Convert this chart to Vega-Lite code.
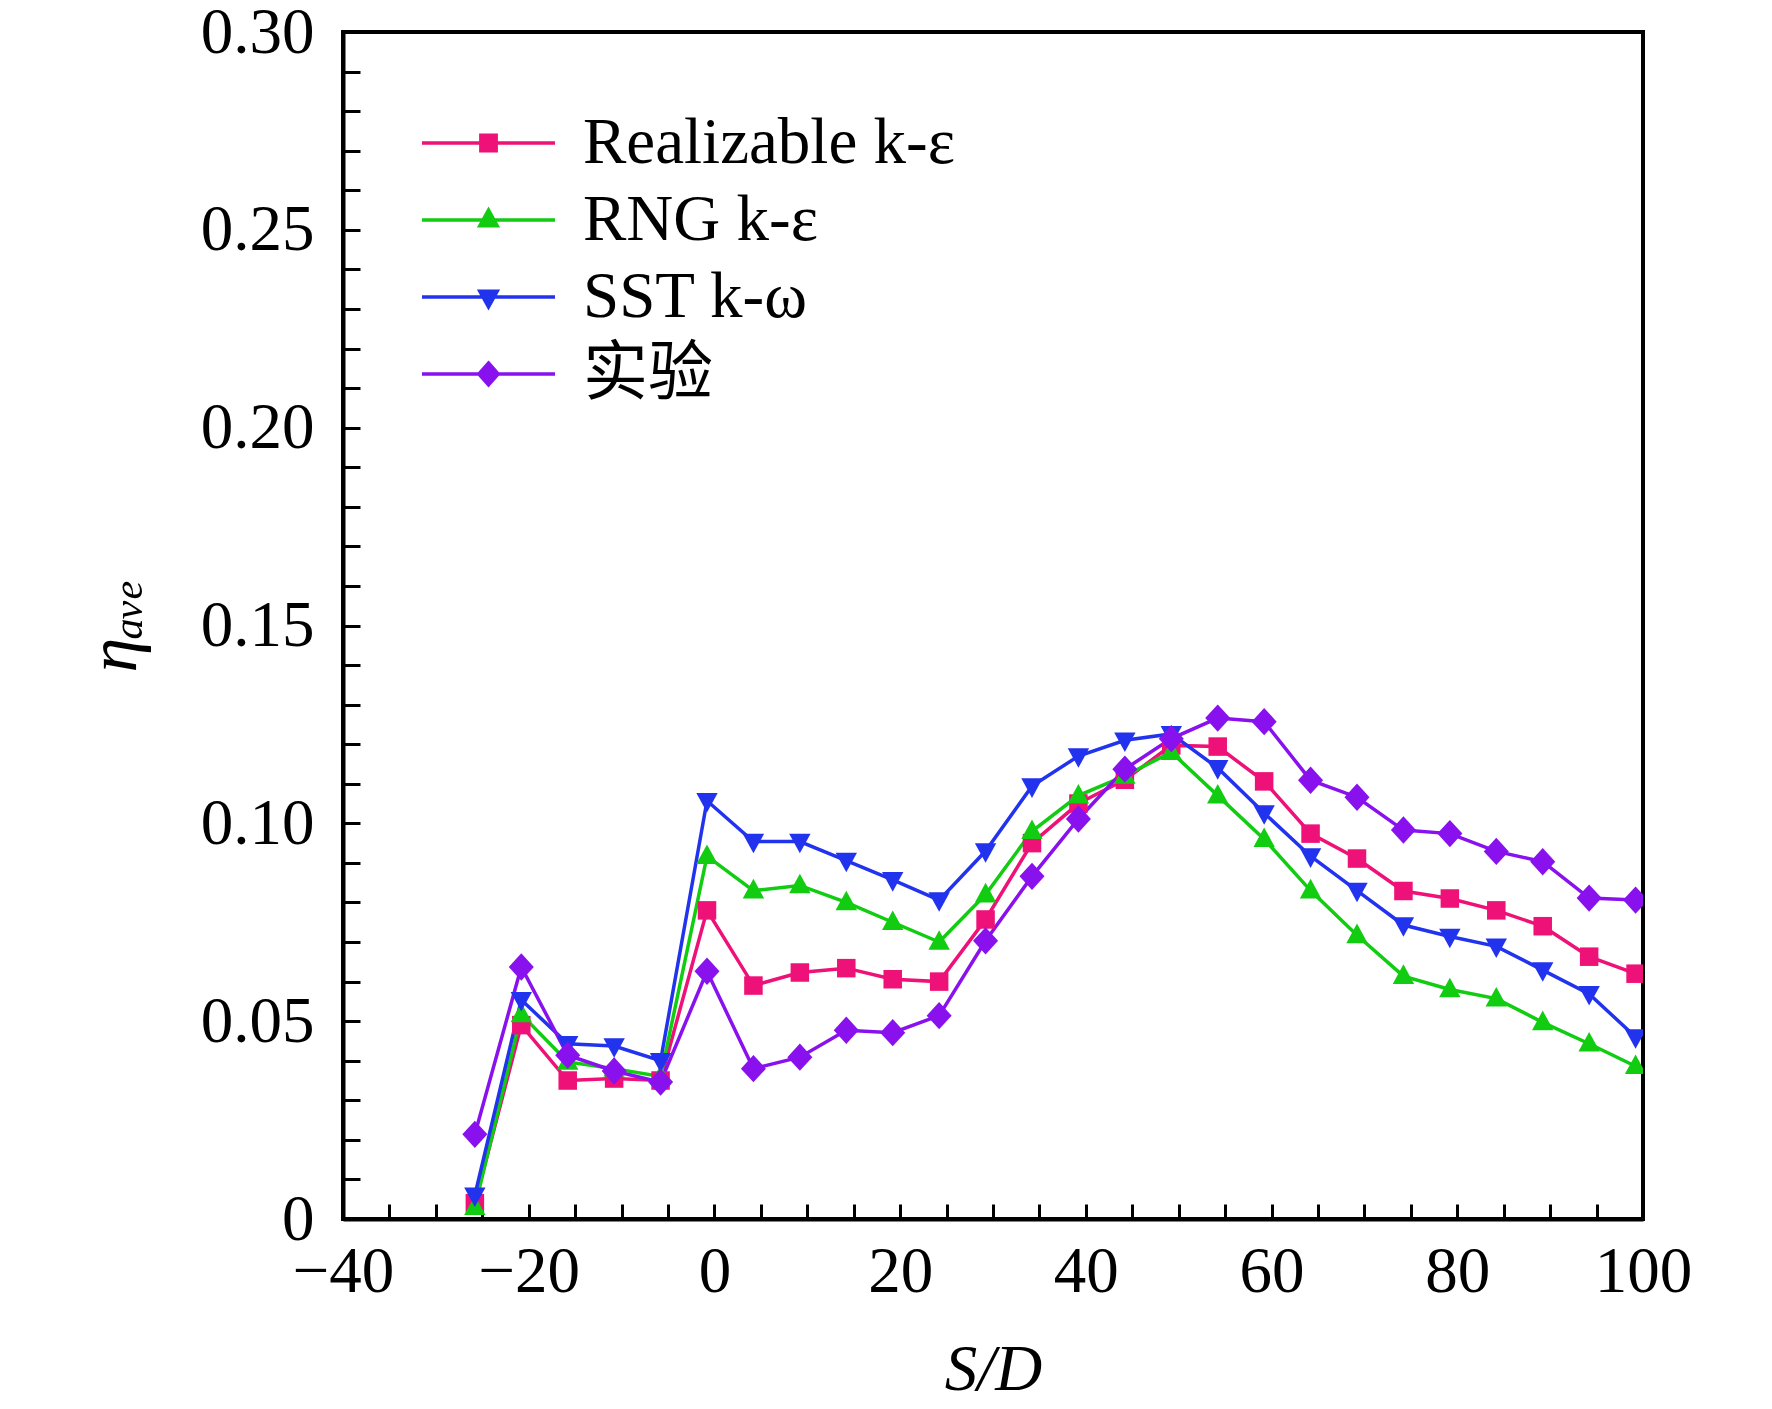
{
  "$schema": "https://vega.github.io/schema/vega-lite/v6.json",
  "width": 1300,
  "height": 1187,
  "autosize": "none",
  "padding": {"left": 343, "top": 32, "right": 129, "bottom": 190},
  "background": "white",
  "config": {
    "view": {"stroke": "black", "strokeWidth": 4},
    "font": "Liberation Serif",
    "axis": {
      "grid": false,
      "domainColor": "black",
      "domainWidth": 4,
      "tickColor": "black",
      "tickWidth": 3,
      "labelFont": "Liberation Serif",
      "labelFontSize": 65,
      "labelColor": "black",
      "labelOverlap": false,
      "labelFlush": false,
      "titleFont": "Liberation Serif",
      "titleFontSize": 65,
      "titleFontWeight": "normal",
      "titleColor": "black"
    }
  },
  "data": {
    "values": [
      {"model": "Realizable k-ε", "x": -25.8, "eta": 0.004},
      {"model": "Realizable k-ε", "x": -20.8, "eta": 0.049},
      {"model": "Realizable k-ε", "x": -15.8, "eta": 0.035},
      {"model": "Realizable k-ε", "x": -10.8, "eta": 0.0355},
      {"model": "Realizable k-ε", "x": -5.8, "eta": 0.035},
      {"model": "Realizable k-ε", "x": -0.8, "eta": 0.078},
      {"model": "Realizable k-ε", "x": 4.2, "eta": 0.059},
      {"model": "Realizable k-ε", "x": 9.2, "eta": 0.0623},
      {"model": "Realizable k-ε", "x": 14.2, "eta": 0.0634},
      {"model": "Realizable k-ε", "x": 19.2, "eta": 0.0606},
      {"model": "Realizable k-ε", "x": 24.2, "eta": 0.060},
      {"model": "Realizable k-ε", "x": 29.2, "eta": 0.0757},
      {"model": "Realizable k-ε", "x": 34.2, "eta": 0.095},
      {"model": "Realizable k-ε", "x": 39.2, "eta": 0.105},
      {"model": "Realizable k-ε", "x": 44.2, "eta": 0.111},
      {"model": "Realizable k-ε", "x": 49.2, "eta": 0.1197},
      {"model": "Realizable k-ε", "x": 54.2, "eta": 0.1194},
      {"model": "Realizable k-ε", "x": 59.2, "eta": 0.1106},
      {"model": "Realizable k-ε", "x": 64.2, "eta": 0.0974},
      {"model": "Realizable k-ε", "x": 69.2, "eta": 0.0911},
      {"model": "Realizable k-ε", "x": 74.2, "eta": 0.0829},
      {"model": "Realizable k-ε", "x": 79.2, "eta": 0.081},
      {"model": "Realizable k-ε", "x": 84.2, "eta": 0.078},
      {"model": "Realizable k-ε", "x": 89.2, "eta": 0.074},
      {"model": "Realizable k-ε", "x": 94.2, "eta": 0.0663},
      {"model": "Realizable k-ε", "x": 99.2, "eta": 0.062},
      {"model": "RNG k-ε", "x": -25.8, "eta": 0.003},
      {"model": "RNG k-ε", "x": -20.8, "eta": 0.0517},
      {"model": "RNG k-ε", "x": -15.8, "eta": 0.0397},
      {"model": "RNG k-ε", "x": -10.8, "eta": 0.038},
      {"model": "RNG k-ε", "x": -5.8, "eta": 0.036},
      {"model": "RNG k-ε", "x": -0.8, "eta": 0.0917},
      {"model": "RNG k-ε", "x": 4.2, "eta": 0.083},
      {"model": "RNG k-ε", "x": 9.2, "eta": 0.0843},
      {"model": "RNG k-ε", "x": 14.2, "eta": 0.080},
      {"model": "RNG k-ε", "x": 19.2, "eta": 0.075},
      {"model": "RNG k-ε", "x": 24.2, "eta": 0.070},
      {"model": "RNG k-ε", "x": 29.2, "eta": 0.082},
      {"model": "RNG k-ε", "x": 34.2, "eta": 0.098},
      {"model": "RNG k-ε", "x": 39.2, "eta": 0.107},
      {"model": "RNG k-ε", "x": 44.2, "eta": 0.112},
      {"model": "RNG k-ε", "x": 49.2, "eta": 0.118},
      {"model": "RNG k-ε", "x": 54.2, "eta": 0.107},
      {"model": "RNG k-ε", "x": 59.2, "eta": 0.096},
      {"model": "RNG k-ε", "x": 64.2, "eta": 0.083},
      {"model": "RNG k-ε", "x": 69.2, "eta": 0.0717},
      {"model": "RNG k-ε", "x": 74.2, "eta": 0.0614},
      {"model": "RNG k-ε", "x": 79.2, "eta": 0.058},
      {"model": "RNG k-ε", "x": 84.2, "eta": 0.0557},
      {"model": "RNG k-ε", "x": 89.2, "eta": 0.0497},
      {"model": "RNG k-ε", "x": 94.2, "eta": 0.0443},
      {"model": "RNG k-ε", "x": 99.2, "eta": 0.0386},
      {"model": "SST k-ω", "x": -25.8, "eta": 0.006},
      {"model": "SST k-ω", "x": -20.8, "eta": 0.0554},
      {"model": "SST k-ω", "x": -15.8, "eta": 0.0443},
      {"model": "SST k-ω", "x": -10.8, "eta": 0.0437},
      {"model": "SST k-ω", "x": -5.8, "eta": 0.040},
      {"model": "SST k-ω", "x": -0.8, "eta": 0.1057},
      {"model": "SST k-ω", "x": 4.2, "eta": 0.0954},
      {"model": "SST k-ω", "x": 9.2, "eta": 0.0954},
      {"model": "SST k-ω", "x": 14.2, "eta": 0.0906},
      {"model": "SST k-ω", "x": 19.2, "eta": 0.0857},
      {"model": "SST k-ω", "x": 24.2, "eta": 0.0806},
      {"model": "SST k-ω", "x": 29.2, "eta": 0.093},
      {"model": "SST k-ω", "x": 34.2, "eta": 0.1094},
      {"model": "SST k-ω", "x": 39.2, "eta": 0.117},
      {"model": "SST k-ω", "x": 44.2, "eta": 0.121},
      {"model": "SST k-ω", "x": 49.2, "eta": 0.1226},
      {"model": "SST k-ω", "x": 54.2, "eta": 0.114},
      {"model": "SST k-ω", "x": 59.2, "eta": 0.1026},
      {"model": "SST k-ω", "x": 64.2, "eta": 0.0917},
      {"model": "SST k-ω", "x": 69.2, "eta": 0.083},
      {"model": "SST k-ω", "x": 74.2, "eta": 0.0743},
      {"model": "SST k-ω", "x": 79.2, "eta": 0.0714},
      {"model": "SST k-ω", "x": 84.2, "eta": 0.0689},
      {"model": "SST k-ω", "x": 89.2, "eta": 0.0629},
      {"model": "SST k-ω", "x": 94.2, "eta": 0.0569},
      {"model": "SST k-ω", "x": 99.2, "eta": 0.046},
      {"model": "实验", "x": -25.8, "eta": 0.0214},
      {"model": "实验", "x": -20.8, "eta": 0.0637},
      {"model": "实验", "x": -15.8, "eta": 0.0414},
      {"model": "实验", "x": -10.8, "eta": 0.0374},
      {"model": "实验", "x": -5.8, "eta": 0.0346},
      {"model": "实验", "x": -0.8, "eta": 0.0626},
      {"model": "实验", "x": 4.2, "eta": 0.038},
      {"model": "实验", "x": 9.2, "eta": 0.0409},
      {"model": "实验", "x": 14.2, "eta": 0.0477},
      {"model": "实验", "x": 19.2, "eta": 0.0471},
      {"model": "实验", "x": 24.2, "eta": 0.0514},
      {"model": "实验", "x": 29.2, "eta": 0.0703},
      {"model": "实验", "x": 34.2, "eta": 0.0866},
      {"model": "实验", "x": 39.2, "eta": 0.1011},
      {"model": "实验", "x": 44.2, "eta": 0.1137},
      {"model": "实验", "x": 49.2, "eta": 0.1214},
      {"model": "实验", "x": 54.2, "eta": 0.1266},
      {"model": "实验", "x": 59.2, "eta": 0.1257},
      {"model": "实验", "x": 64.2, "eta": 0.1109},
      {"model": "实验", "x": 69.2, "eta": 0.1066},
      {"model": "实验", "x": 74.2, "eta": 0.0983},
      {"model": "实验", "x": 79.2, "eta": 0.0974},
      {"model": "实验", "x": 84.2, "eta": 0.0929},
      {"model": "实验", "x": 89.2, "eta": 0.0903},
      {"model": "实验", "x": 94.2, "eta": 0.0811},
      {"model": "实验", "x": 99.2, "eta": 0.0806}
    ]
  },
  "encoding": {
    "x": {
      "field": "x",
      "type": "quantitative",
      "title": "S/D",
      "scale": {"domain": [-40, 100], "nice": false, "zero": false},
      "axis": {
        "values": [-40, -35, -30, -25, -20, -15, -10, -5, 0, 5, 10, 15, 20, 25, 30, 35, 40, 45, 50, 55, 60, 65, 70, 75, 80, 85, 90, 95, 100],
        "labelExpr": "datum.value % 20 == 0 ? datum.label : ''",
        "tickSize": -15,
        "labelPadding": 36,
        "titleFontStyle": "italic",
        "titlePadding": 34,
        "encode": {"ticks": {"update": {"y2": {"signal": "datum.value % 20 == 0 ? -15 : -9"}}}}
      }
    },
    "y": {
      "field": "eta",
      "type": "quantitative",
      "title": "ηₐᵥₑ",
      "scale": {"domain": [0, 0.3], "nice": false},
      "axis": {
        "values": [0, 0.01, 0.02, 0.03, 0.04, 0.05, 0.06, 0.07, 0.08, 0.09, 0.1, 0.11, 0.12, 0.13, 0.14, 0.15, 0.16, 0.17, 0.18, 0.19, 0.2, 0.21, 0.22, 0.23, 0.24, 0.25, 0.26, 0.27, 0.28, 0.29, 0.3],
        "labelExpr": "round(datum.value * 100) % 5 == 0 ? (datum.value == 0 ? '0' : format(datum.value, '.2f')) : ''",
        "tickSize": -17,
        "labelPadding": 46,
        "titleFontStyle": "italic",
        "titleFontSize": 70,
        "titlePadding": 50,
        "encode": {"ticks": {"update": {"x2": {"signal": "round(datum.value * 100) % 5 == 0 ? 17 : 10"}}}}
      }
    },
    "color": {
      "field": "model",
      "type": "nominal",
      "sort": null,
      "scale": {
        "domain": ["Realizable k-ε", "RNG k-ε", "SST k-ω", "实验"],
        "range": ["#EE1177", "#11CC11", "#2233EE", "#8811EE"]
      },
      "legend": {
        "orient": "none",
        "legendX": 77,
        "legendY": 80,
        "title": null,
        "padding": 0,
        "labelFont": "Liberation Serif, Noto Sans CJK SC",
        "labelFontSize": 65,
        "labelColor": "black",
        "labelLimit": 0,
        "labelOffset": 26,
        "symbolSize": 17689,
        "symbolStrokeWidth": 3.5,
        "clipHeight": 62,
        "rowPadding": 12,
        "encode": {
          "symbols": {
            "update": {
              "shape": {"signal": "['M-1,0H1M-0.115,-0.115H0.115V0.115H-0.115Z', 'M-1,0H1M0,-0.15L0.13,0.085L-0.13,0.085Z', 'M-1,0H1M0,0.15L0.13,-0.085L-0.13,-0.085Z', 'M-1,0H1M0,-0.165L0.145,0L0,0.165L-0.145,0Z'][datum.index]"},
              "fill": {"scale": "color", "field": "value"},
              "stroke": {"scale": "color", "field": "value"},
              "strokeWidth": {"value": 3.5},
              "opacity": {"value": 1}
            }
          }
        }
      }
    }
  },
  "layer": [
    {
      "mark": {"type": "line", "strokeWidth": 3.5, "clip": true}
    },
    {
      "mark": {"type": "point", "filled": true, "opacity": 1, "size": 680, "clip": true},
      "encoding": {
        "shape": {
          "field": "model",
          "type": "nominal",
          "scale": {
            "domain": ["实验", "SST k-ω", "RNG k-ε", "Realizable k-ε"],
            "range": ["M0,-1.05L0.96,0L0,1.05L-0.96,0Z", "M0,0.9L0.82,-0.6L-0.82,-0.6Z", "M0,-0.9L0.82,0.6L-0.82,0.6Z", "M-0.71,-0.71H0.71V0.71H-0.71Z"]
          },
          "legend": null
        }
      }
    }
  ]
}
